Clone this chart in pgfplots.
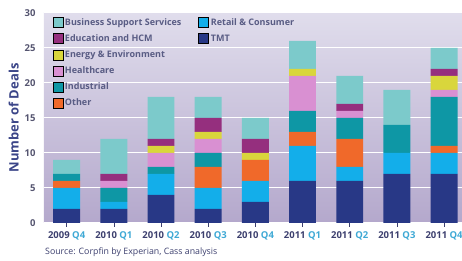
\documentclass[border=0pt]{standalone}
\usepackage{pgfplots}
\pgfplotsset{compat=1.18}
\usepackage{pgfplotstable}
\usepackage{fontspec}
\setmainfont{Open Sans}
\usetikzlibrary{calc}
\definecolor{cBSS}{HTML}{7CCACB}
\definecolor{cEdu}{HTML}{952F7E}
\definecolor{cEnergy}{HTML}{D9D63C}
\definecolor{cHealth}{HTML}{D990D2}
\definecolor{cInd}{HTML}{0E97A5}
\definecolor{cOther}{HTML}{F0692A}
\definecolor{cRetail}{HTML}{13AEEA}
\definecolor{cTMT}{HTML}{283886}
\definecolor{bgtop}{HTML}{E0DDEC}
\definecolor{bgbot}{HTML}{B4A8CC}
\definecolor{navy}{HTML}{3B4588}
\definecolor{yearcol}{HTML}{3C3F6E}
\definecolor{qcol}{HTML}{3FA9D5}
\definecolor{txtgray}{HTML}{555570}
\pgfplotstableread{
x TMT Retail Other Industrial Healthcare Energy Edu BSS
0 2 3 1 1 0 0 0 2
1 2 1 0 2 1 0 1 5
2 4 3 0 1 2 1 1 6
3 2 3 3 2 2 1 2 3
4 3 3 3 0 0 1 2 3
5 6 5 2 3 5 1 0 4
6 6 2 4 3 1 0 1 4
7 7 3 0 4 0 0 0 5
8 7 3 1 7 1 2 1 3
}\deals
\newcommand{\qq}[2]{\textcolor{yearcol}{#1} \textcolor{qcol}{#2}}
\begin{document}
\begin{tikzpicture}
\begin{axis}[
  name=ax,
  scale only axis,
  width=418pt, height=210pt,
  ybar stacked,
  bar width=0.57,
  xmin=-0.48, xmax=8.38,
  ymin=0, ymax=30,
  ytick={0,5,...,30},
  xtick=data,
  xticklabels={\qq{2009}{Q4},\qq{2010}{Q1},\qq{2010}{Q2},\qq{2010}{Q3},\qq{2010}{Q4},\qq{2011}{Q1},\qq{2011}{Q2},\qq{2011}{Q3},\qq{2011}{Q4}},
  axis background/.style={top color=bgtop, bottom color=bgbot},
  axis line style={draw=none},
  ymajorgrids,
  grid style={white, line width=1pt},
  ytick style={draw=none},
  xtick style={draw=yearcol, line width=0.6pt},
  tick align=outside,
  xtick pos=bottom,
  major tick length=4pt,
  tick label style={font=\bfseries\fontsize{9.5}{10}\selectfont},
  yticklabel style={text=txtgray, xshift=-1pt},
  xticklabel style={yshift=-1pt},
  /pgf/number format/assume math mode=true,
  ylabel={Number of Deals},
  ylabel style={font=\bfseries\fontsize{13}{14}\selectfont, text=navy, yshift=-1pt},
  legend columns=2,
  legend style={at={(rel axis cs:0.02,0.985)}, anchor=north west, draw=none, fill=none,
    font=\bfseries\fontsize{9}{10}\selectfont, text=yearcol!85,
    row sep=3.8pt, inner sep=0pt,
    nodes={inner sep=2pt},
    /tikz/every even column/.append style={column sep=15pt}},
  legend image code/.code={\fill[#1] (0pt,-5pt) rectangle (10pt,5pt);},
  legend cell align=left,
]
\addlegendimage{fill=cBSS}
\addlegendimage{fill=cRetail}
\addlegendimage{fill=cEdu}
\addlegendimage{fill=cTMT}
\addlegendimage{fill=cEnergy}
\addlegendimage{empty legend}
\addlegendimage{fill=cHealth}
\addlegendimage{empty legend}
\addlegendimage{fill=cInd}
\addlegendimage{empty legend}
\addlegendimage{fill=cOther}
\legend{Business Support Services, Retail \& Consumer, Education and HCM, TMT, Energy \& Environment, \mbox{}, Healthcare, \mbox{}, Industrial, \mbox{}, Other}
\addplot[fill=cTMT, draw=none] table[x=x, y=TMT] {\deals};
\addplot[fill=cRetail, draw=none] table[x=x, y=Retail] {\deals};
\addplot[fill=cOther, draw=none] table[x=x, y=Other] {\deals};
\addplot[fill=cInd, draw=none] table[x=x, y=Industrial] {\deals};
\addplot[fill=cHealth, draw=none] table[x=x, y=Healthcare] {\deals};
\addplot[fill=cEnergy, draw=none] table[x=x, y=Energy] {\deals};
\addplot[fill=cEdu, draw=none] table[x=x, y=Edu] {\deals};
\addplot[fill=cBSS, draw=none] table[x=x, y=BSS] {\deals};
\end{axis}
\node[anchor=west, inner sep=0pt, font=\fontsize{8.8}{9}\selectfont, text=yearcol] at ($(ax.south west)+(1pt,-29pt)$) {Source: Corpfin by Experian, Cass analysis};
\pgfresetboundingbox
\path ($(ax.south west)+(-44pt,-38pt)$) rectangle ($(ax.north east)+(0pt,13pt)$);
\end{tikzpicture}
\end{document}
